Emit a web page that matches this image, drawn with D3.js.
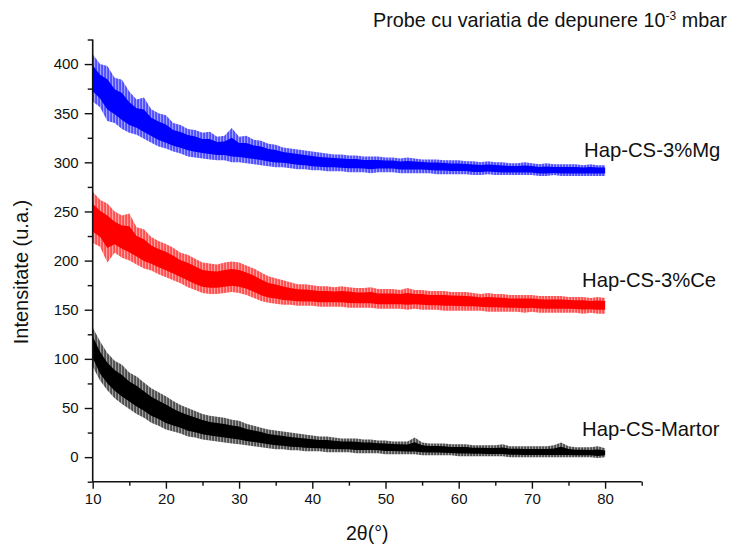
<!DOCTYPE html>
<html>
<head>
<meta charset="utf-8">
<script src="https://cdn.jsdelivr.net/npm/d3@7"></script>
<style>
  html, body { margin: 0; padding: 0; background: #fff; }
  svg { display: block; }
  text { font-family: "Liberation Sans", Arial, sans-serif; fill: #111; }
</style>
</head>
<body>
<svg id="chart" width="746" height="548"></svg>
<script>
// 2θ sampling grid (degrees), one point per degree
const twoTheta = d3.range(10, 81);

// Hap-CS-3%Mg : centre of the noise band, spike tops, spike bottoms
const mgMid = [385,376,368,360,354,348,344,339,335,331,327,324,322,320,318,316,315,314,314,313,312,311,310,309,307,306,305,304,303,302,301,300,300,300,299,299,299,298,298,298,298,298,297,297,297,297,296,296,296,295,295,295,294,294,294,294,293,293,293,293,293,292,292,292,292,292,292,292,292,292,292];
const mgHi  = [410,400,398,386,384,372,364,366,354,350,348,340,338,334,333,330,331,326,327,335,326,327,323,322,319,318,315,314,313,312,311,310,309,308,308,307,307,306,306,306,305,305,304,305,304,303,303,303,302,302,302,301,301,300,301,300,300,299,299,300,299,298,299,298,298,298,298,297,298,297,297];
const mgLo  = [362,356,342,340,334,330,328,324,320,316,314,311,309,306,305,304,303,302,302,300,300,299,298,297,296,295,295,294,293,293,292,292,291,291,291,290,290,290,289,290,290,290,289,289,289,289,289,288,288,288,288,288,287,287,288,287,287,287,287,287,287,286,286,287,286,286,286,286,286,286,286];

// Hap-CS-3%Ce
const ceMid = [243,237,231,227,223,219,214,209,205,202,199,195,191,188,184,181,180,180,181,182,181,179,176,172,169,168,166,165,164.5,164,163.5,163,163,163,163,163,162,162,162,161,161,161,161,161,161,161,160,160,160,160,159.5,159,159,158,158,158,157.5,157,157,157,157,156.5,156,156,156,156,155.5,155.5,155,155,155];
const ceHi  = [270,262,258,250,246,248,234,232,224,220,217,213,208,206,202,198,197,196,198,199,198,195,192,188,184,182,180,178,176,176,175,174,174,173,174,173,172,172,173,171,171,171,170,172,170,170,169,169,169,168,168,168,167,166,167,166,166,165,165,165,165,164,164,164,164,163,163,163,162,163,162];
const ceLo  = [218,214,198,208,203,200,196,192,190,186,183,180,177,173,170,167,166,166,167,168,167,165,162,159,157,156,155,155,154,154,154,153,153,153,153,152,152,152,152,151,151,151,151,150,151,150,150,150,149,149,149,149,149,149,148,148,148,148,148,147,148,147,147,147,147,147,147,146,147,146,146];

// Hap-CS-Martor
const mMid = [112,94,84,77,71,66,61,56,51,47,43,40,37,34,32,30,28,27,26,25,24,22,21,20,18,17,16,15,14.5,14,13.5,13,13,12.5,12,12,11.5,11,11,10.5,10,10,9.5,9,9,8.5,8,8,7.5,7,7,7,6.5,6.5,6,6,6,5.5,5.5,5,5,5,5,5,5,5,4.5,4.5,4,4,4];
const mHi  = [132,118,106,98,94,86,82,76,70,66,62,57,53,50,47,44,42,41,40,38,37,34,32,30,28,27,26,25,24,23,22,21,21,20,19,19,19,18,18,17,17,16,16,16,20,15,14,14,14,13,13,13,12,12,12,12,13,11,11,11,11,11,11,12,15,11,10,10,10,11,9];
const mLo  = [92,78,68,60,54,49,44,40,35,32,28,26,24,21,20,18,17,16,15,14,13,12,11,10,9,8,8,7,7,6,6,6,5,5,5,5,4,4,4,4,3,3,3,3,3,2,2,2,2,2,1,1,1,1,1,1,1,0,0,0,0,0,0,0,0,0,0,0,0,-1,0];

// axis ticks
const xTicks = [10, 20, 30, 40, 50, 60, 70, 80];
const xMinor = [15, 25, 35, 45, 55, 65, 75, 85];
const yTicks = [0, 50, 100, 150, 200, 250, 300, 350, 400];
const yMinor = [-25, 25, 75, 125, 175, 225, 275, 325, 375, 425];

const seriesNames = ["Hap-CS-3%Mg", "Hap-CS-3%Ce", "Hap-CS-Martor"];
const seriesColors = ["#0000ff", "#ff0000", "#000000"];

const margin = { left: 92.7, top: 39.5, right: 746 - 641.7, bottom: 548 - 481.7 };
const W = 746, H = 548;
const innerW = W - margin.left - margin.right;
const innerH = H - margin.top - margin.bottom;

const x = d3.scaleLinear().domain([10, 85]).range([0, innerW]);
const y = d3.scaleLinear().domain([-25, 425]).range([innerH, 0]);

const svg = d3.select("#chart");
const defs = svg.append("defs");

// streaky vertical hatching for the outer (spike) part of each band
seriesColors.forEach((c, k) => {
  const p = defs.append("pattern").attr("id", `streak${k}`)
    .attr("patternUnits", "userSpaceOnUse").attr("width", 3).attr("height", 10);
  p.append("rect").attr("width", 3).attr("height", 10).attr("fill", c).attr("fill-opacity", 0.3);
  p.append("rect").attr("x", 0).attr("width", 1).attr("height", 10).attr("fill", c).attr("fill-opacity", 0.8);
  p.append("rect").attr("x", 2).attr("width", 0.7).attr("height", 10).attr("fill", c).attr("fill-opacity", 0.5);
});

const g = svg.append("g").attr("transform", `translate(${margin.left},${margin.top})`);

// noise bands
const series = [
  { mid: mgMid, hi: mgHi, lo: mgLo },
  { mid: ceMid, hi: ceHi, lo: ceLo },
  { mid: mMid, hi: mHi, lo: mLo }
];

series.forEach((s, k) => {
  const pts = twoTheta.map((t, i) => ({ t, mid: s.mid[i], hi: s.hi[i], lo: s.lo[i] }));
  const outer = d3.area().x(d => x(d.t)).y0(d => y(d.lo)).y1(d => y(d.hi));
  const inner = d3.area().x(d => x(d.t))
    .y0(d => y(d.mid - (d.mid - d.lo) * 0.55)).y1(d => y(d.mid + (d.hi - d.mid) * 0.55));
  g.append("path").datum(pts).attr("d", outer)
    .attr("fill", `url(#streak${k})`);
  g.append("path").datum(pts).attr("d", inner)
    .attr("fill", seriesColors[k]);
});

// axes
const xAxis = g.append("g").attr("transform", `translate(0,${innerH})`)
  .call(d3.axisBottom(x).tickValues(xTicks).tickSize(7).tickPadding(5).tickFormat(d3.format("d")));
g.append("g").attr("transform", `translate(0,${innerH})`)
  .call(d3.axisBottom(x).tickValues(xMinor).tickSize(4).tickFormat(""))
  .call(a => a.select(".domain").remove());
const yAxis = g.append("g")
  .call(d3.axisLeft(y).tickValues(yTicks).tickSize(8).tickPadding(6).tickFormat(d3.format("d")));
g.append("g")
  .call(d3.axisLeft(y).tickValues(yMinor).tickSize(5).tickFormat(""))
  .call(a => a.select(".domain").remove());

g.selectAll(".domain").attr("stroke", "#111").attr("stroke-width", 1.6);
g.selectAll(".tick line").attr("stroke", "#111").attr("stroke-width", 1.4);
g.selectAll(".tick text").attr("font-size", 15).attr("font-family", '"Liberation Sans", Arial, sans-serif').attr("fill", "#111");
xAxis.select(".domain").attr("d", `M0,0H${innerW}`);
yAxis.select(".domain").attr("d", `M0,${innerH}V0`);

// series labels
const labelPos = [[584, 156.7], [582, 286.7], [582, 436]];
seriesNames.forEach((name, k) => {
  svg.append("text").attr("x", labelPos[k][0]).attr("y", labelPos[k][1])
    .attr("font-size", 20.3).text(name);
});

// title with superscript exponent
const title = svg.append("text").attr("x", 373).attr("y", 27).attr("font-size", 19.8);
title.append("tspan").text("Probe cu variatia de depunere 10");
title.append("tspan").attr("dy", -7).attr("font-size", 12).text("-3");
title.append("tspan").attr("dy", 7).text(" mbar");

// axis titles
svg.append("text").attr("x", margin.left + innerW / 2).attr("y", 540)
  .attr("text-anchor", "middle").attr("font-size", 19.5).text("2θ(°)");
svg.append("text").attr("transform", "translate(28,272) rotate(-90)")
  .attr("text-anchor", "middle").attr("font-size", 20).text("Intensitate (u.a.)");
</script>
</body>
</html>
